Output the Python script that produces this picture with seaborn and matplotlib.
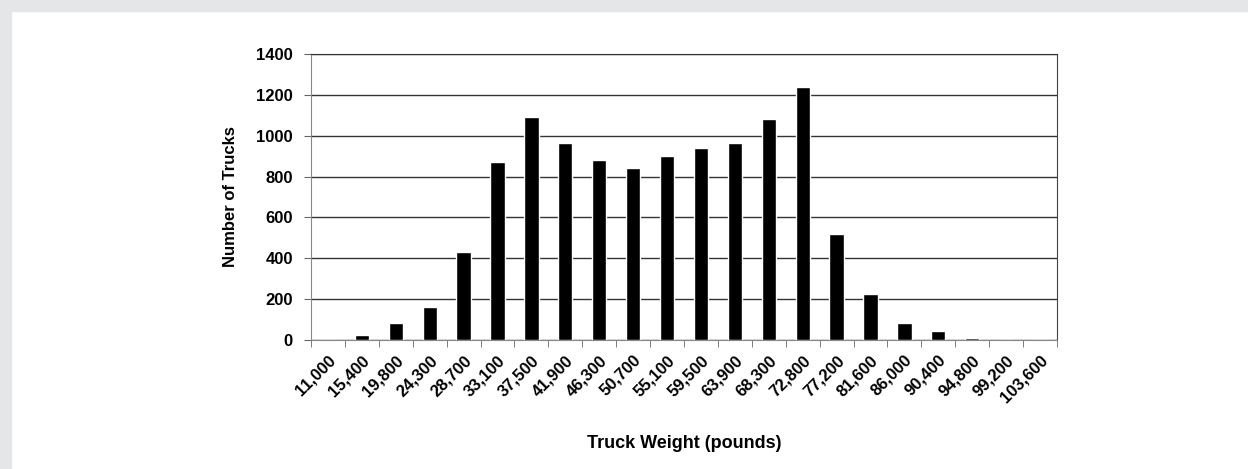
import pandas as pd
import matplotlib.pyplot as plt
import seaborn as sns
from matplotlib.patches import Rectangle
from matplotlib.ticker import FixedLocator

# Data
weights = ["11,000", "15,400", "19,800", "24,300", "28,700", "33,100", "37,500",
           "41,900", "46,300", "50,700", "55,100", "59,500", "63,900", "68,300",
           "72,800", "77,200", "81,600", "86,000", "90,400", "94,800", "99,200",
           "103,600"]
trucks = [0, 24, 82, 160, 431, 873, 1090, 964, 880, 840, 899, 938, 963, 1083,
          1240, 518, 227, 82, 44, 8, 0, 0]

df = pd.DataFrame({"weight": weights, "trucks": trucks})

sns.set_style("white")
plt.rcParams["font.family"] = ["Liberation Sans", "DejaVu Sans"]
plt.rcParams["text.color"] = "black"
plt.rcParams["axes.labelcolor"] = "black"
plt.rcParams["xtick.color"] = "black"
plt.rcParams["ytick.color"] = "black"

fig = plt.figure(figsize=(12.48, 4.69), dpi=100)
# gray frame at top and left
fig.patches.append(Rectangle((0, 1 - 11 / 469), 1, 11 / 469, transform=fig.transFigure,
                             color="#e5e6e8", zorder=0))
fig.patches.append(Rectangle((0, 0), 11 / 1248, 1, transform=fig.transFigure,
                             color="#e5e6e8", zorder=0))

ax = fig.add_axes([311 / 1248, 1 - 340 / 469, (1057 - 311) / 1248, (340 - 54) / 469])
sns.barplot(data=df, x="weight", y="trucks", order=weights, color="black",
            width=0.42, saturation=1, ax=ax, zorder=3)

ax.set_ylim(0, 1400)
ax.set_xlim(-0.5, len(weights) - 0.5)
ax.set_yticks(range(0, 1401, 200))
ax.yaxis.grid(True, color="#333333", linewidth=1)
ax.set_axisbelow(True)

for side in ["left", "bottom"]:
    ax.spines[side].set_color("#888888")
ax.spines["right"].set_color("#444444")
ax.spines["top"].set_color("#333333")

ax.tick_params(axis="y", which="major", length=5, color="#666666", direction="out",
               left=True, labelsize=12, pad=8)
ax.tick_params(axis="x", which="major", length=0, labelsize=12, pad=9)
ax.xaxis.set_minor_locator(FixedLocator([i - 0.5 for i in range(len(weights) + 1)]))
ax.tick_params(axis="x", which="minor", length=5, color="#666666", direction="out",
               bottom=True)

for lbl in ax.get_yticklabels():
    lbl.set_fontweight("bold")
for lbl in ax.get_xticklabels():
    lbl.set_fontweight("bold")
    lbl.set_rotation(45)
    lbl.set_ha("right")
    lbl.set_va("top")
    lbl.set_rotation_mode("anchor")

ax.set_xlabel("Truck Weight (pounds)", fontsize=13, fontweight="bold", labelpad=21)
ax.set_ylabel("Number of Trucks", fontsize=12, fontweight="bold", labelpad=13)

fig.savefig("out.png", dpi=100)
